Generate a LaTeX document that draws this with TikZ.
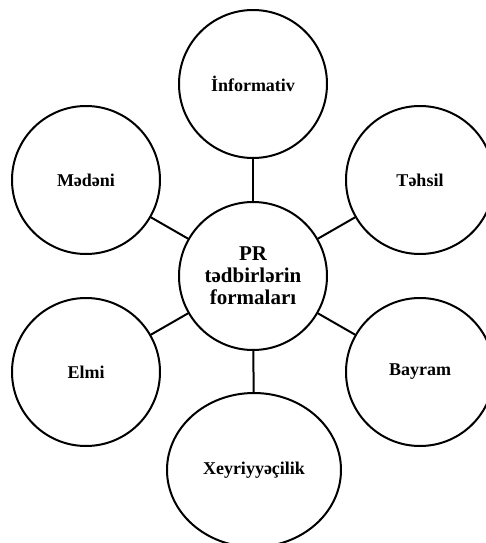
\documentclass[tikz,border=0pt]{standalone}
\usepackage{fontspec}
\setmainfont{Liberation Serif}
\usetikzlibrary{shapes.geometric}
\begin{document}
\begin{tikzpicture}[x=1pt,y=-1pt,
  bubble/.style={draw,circle,line width=2pt,minimum size=148pt,inner sep=0pt,
    font=\fontsize{18}{20}\selectfont\bfseries,align=center},
  hub/.style={bubble,font=\fontsize{21}{22}\selectfont\bfseries},
  oval/.style={draw,ellipse,line width=2pt,minimum width=174pt,minimum height=154pt,inner sep=0pt,
    font=\fontsize{18}{20}\selectfont\bfseries},
  link/.style={line width=2pt}]
\useasboundingbox (0,0) rectangle (486,543);
\node[hub] (c) at (253,276) {PR\\tədbirlərin\\formaları};
\node[bubble] (inf) at (253,84) {İnformativ};
\node[bubble] (med) at (86,180) {Mədəni};
\node[bubble] (teh) at (420,180) {Təhsil};
\node[bubble] (elm) at (86,372) {Elmi};
\node[bubble] (bay) at (420,372) {Bayram};
\node[oval] (xey) at (254,470) {Xeyriyyəçilik};
\draw[link] (c) -- (inf);
\draw[link] (c) -- (med);
\draw[link] (c) -- (teh);
\draw[link] (c) -- (elm);
\draw[link] (c) -- (bay);
\draw[link] (c) -- (xey);
\end{tikzpicture}
\end{document}
